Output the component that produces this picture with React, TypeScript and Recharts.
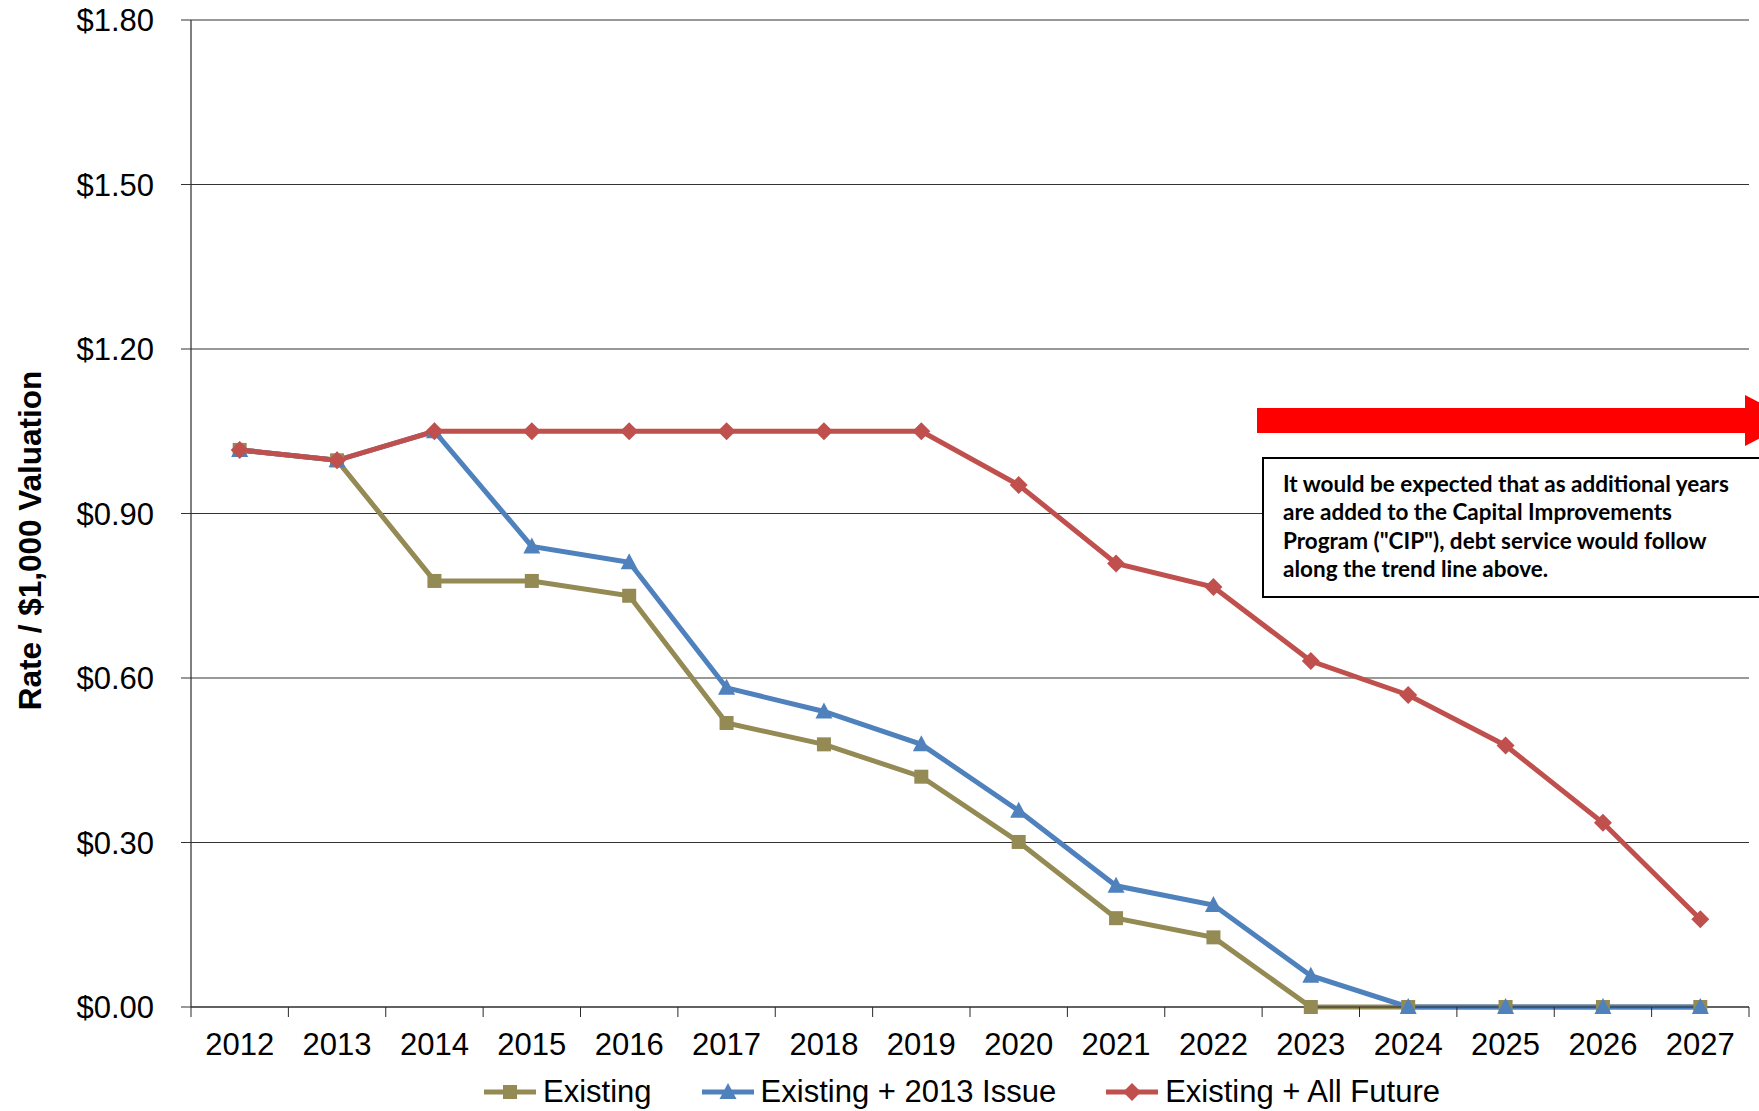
import { LineChart, Line, XAxis, YAxis, CartesianGrid, Legend, Customized } from "recharts";

const YEARS = ["2012", "2013", "2014", "2015", "2016", "2017", "2018", "2019", "2020", "2021", "2022", "2023", "2024", "2025", "2026", "2027"];
const EXISTING = [1.016, 0.997, 0.777, 0.777, 0.75, 0.518, 0.479, 0.42, 0.301, 0.162, 0.127, 0, 0, 0, 0, 0];
const WITH_2013_ISSUE = [1.016, 0.997, 1.05, 0.84, 0.811, 0.582, 0.539, 0.479, 0.358, 0.221, 0.186, 0.057, 0, 0, 0, 0];
const ALL_FUTURE = [1.016, 0.997, 1.05, 1.05, 1.05, 1.05, 1.05, 1.05, 0.952, 0.809, 0.766, 0.631, 0.569, 0.477, 0.336, 0.16];
const Y_TICKS = [0, 0.3, 0.6, 0.9, 1.2, 1.5, 1.8];
const NOTE_LINES = [
  "It would be expected that as additional years",
  "are added to the Capital Improvements",
  'Program ("CIP"), debt service would follow',
  "along the trend line above.",
];

const W = 1759, H = 1111;
const M = { top: 20, right: 10, left: 0, bottom: 0 };
const Y_W = 191, X_H = 104;
const BAND = (W - M.right - Y_W) / YEARS.length;
const FONT = "'Liberation Sans', Arial, sans-serif";
const AXIS = "#2a2a2a", GRID = "#333333";

type Shape = "square" | "triangle" | "diamond";
const SERIES: { key: string; name: string; color: string; shape: Shape; values: number[] }[] = [
  { key: "existing", name: "Existing", color: "#948A54", shape: "square", values: EXISTING },
  { key: "issue2013", name: "Existing + 2013 Issue", color: "#4F81BD", shape: "triangle", values: WITH_2013_ISSUE },
  { key: "allFuture", name: "Existing + All Future", color: "#C0504D", shape: "diamond", values: ALL_FUTURE },
];

const data = YEARS.map((year, i) => {
  const row: Record<string, string | number> = { year };
  SERIES.forEach((s) => { row[s.key] = s.values[i]; });
  return row;
});

function Marker({ shape, cx, cy, fill }: { shape: Shape; cx: number; cy: number; fill: string }) {
  if (shape === "square") return <rect x={cx - 7} y={cy - 7} width={14} height={14} fill={fill} />;
  if (shape === "triangle") return <polygon points={`${cx},${cy - 9} ${cx + 8.5},${cy + 7} ${cx - 8.5},${cy + 7}`} fill={fill} />;
  return <polygon points={`${cx},${cy - 9} ${cx + 9},${cy} ${cx},${cy + 9} ${cx - 9},${cy}`} fill={fill} />;
}

const dotFor = (shape: Shape, fill: string) => (p: any) =>
  p.cx == null || p.cy == null ? <g key={p.index} /> : <g key={p.index}><Marker shape={shape} cx={p.cx} cy={p.cy} fill={fill} /></g>;

function YearTick(props: any) {
  const { x, y, payload, index } = props;
  const half = payload && payload.offset ? payload.offset : BAND / 2;
  return (
    <g>
      <line x1={x - half} x2={x - half} y1={y} y2={y + 10} stroke={AXIS} strokeWidth={1} />
      {index === YEARS.length - 1 && <line x1={x + half} x2={x + half} y1={y} y2={y + 10} stroke={AXIS} strokeWidth={1} />}
      <text x={x} y={y + 48} textAnchor="middle" fontFamily={FONT} fontSize={31} fill="#000">{payload.value}</text>
    </g>
  );
}

function LegendRow() {
  return (
    <div style={{ display: "flex", justifyContent: "center", alignItems: "center", gap: 50, fontFamily: FONT, fontSize: 31, color: "#000" }}>
      {SERIES.map((s) => (
        <div key={s.key} style={{ display: "flex", alignItems: "center", gap: 7 }}>
          <svg width={52} height={22}>
            <line x1={0} x2={52} y1={11} y2={11} stroke={s.color} strokeWidth={5} />
            <Marker shape={s.shape} cx={26} cy={11} fill={s.color} />
          </svg>
          <span>{s.name}</span>
        </div>
      ))}
    </div>
  );
}

// trend arrow and explanatory note at the right edge of the plot
function TrendNote() {
  return (
    <g>
      <rect x={1257} y={408} width={490} height={25} fill="#FF0000" />
      <polygon points="1745,395 1795,420.5 1745,446" fill="#FF0000" />
      <rect x={1263} y={458} width={560} height={139} fill="#fff" stroke="#000" strokeWidth={2} />
      <text fontFamily="Lato, 'Open Sans', sans-serif" fontWeight={700} fontSize={22.5} fill="#000">
        {NOTE_LINES.map((t, i) => (
          <tspan key={i} x={1283} y={492 + i * 28.3}>{t}</tspan>
        ))}
      </text>
    </g>
  );
}

export default function App() {
  return (
    <div style={{ position: "absolute", left: 0, top: 0, width: W, height: H, background: "#fff" }}>
      <LineChart width={W} height={H} data={data} margin={M}>
        <CartesianGrid vertical={false} stroke={GRID} strokeWidth={1} />
        <XAxis dataKey="year" scale="band" height={X_H} axisLine={{ stroke: AXIS, strokeWidth: 1.2 }} tickLine={false} tickSize={0} tickMargin={0} interval={0} tick={<YearTick />} />
        <YAxis
          width={Y_W}
          domain={[0, 1.8]}
          ticks={Y_TICKS}
          interval={0}
          tickFormatter={(v: number) => "$" + v.toFixed(2)}
          axisLine={{ stroke: AXIS, strokeWidth: 1.2 }}
          tickLine={{ stroke: GRID, strokeWidth: 1 }}
          tickSize={10}
          tickMargin={27}
          tick={{ fontFamily: FONT, fontSize: 31, fill: "#000" }}
          label={{
            content: (p: any) => {
              const vb = p.viewBox || { x: 0, y: M.top, width: Y_W, height: H - M.top - X_H };
              const cx = vb.x + 30, cy = vb.y + vb.height / 2 + 27;
              return (
                <text x={cx} y={cy} transform={`rotate(-90 ${cx} ${cy})`}
                  textAnchor="middle" dominantBaseline="central" fontFamily={FONT} fontWeight={700} fontSize={31.5} fill="#000">
                  Rate / $1,000 Valuation
                </text>
              );
            },
          }}
        />
        {SERIES.map((s) => (
          <Line key={s.key} dataKey={s.key} name={s.name} stroke={s.color} strokeWidth={5} type="linear"
            dot={dotFor(s.shape, s.color)} activeDot={false} isAnimationActive={false} />
        ))}
        <Legend layout="horizontal" verticalAlign="middle" align="center" content={<LegendRow />}
          wrapperStyle={{ top: 1074, left: Y_W - 8, width: W - M.right - Y_W, height: 36 }} />
        <Customized component={<TrendNote />} />
      </LineChart>
    </div>
  );
}
